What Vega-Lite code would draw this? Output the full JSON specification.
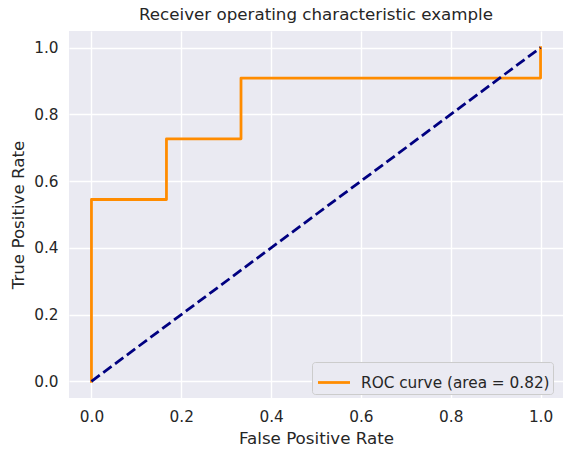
{
  "$schema": "https://vega.github.io/schema/vega-lite/v6.json",
  "autosize": "none",
  "padding": {"left": 69, "top": 31, "right": 11, "bottom": 60},
  "width": 494,
  "height": 367,
  "background": "white",
  "title": {
    "text": "Receiver operating characteristic example",
    "anchor": "middle",
    "font": "DejaVu Sans",
    "fontSize": 16.7,
    "fontWeight": "normal",
    "color": "#262626",
    "offset": 7
  },
  "datasets": {
    "roc": [
      {"fpr": 0.0, "tpr": 0.0, "step": 0, "series": "ROC curve (area = 0.82)"},
      {"fpr": 0.0, "tpr": 0.545, "step": 1, "series": "ROC curve (area = 0.82)"},
      {"fpr": 0.167, "tpr": 0.545, "step": 2, "series": "ROC curve (area = 0.82)"},
      {"fpr": 0.167, "tpr": 0.727, "step": 3, "series": "ROC curve (area = 0.82)"},
      {"fpr": 0.333, "tpr": 0.727, "step": 4, "series": "ROC curve (area = 0.82)"},
      {"fpr": 0.333, "tpr": 0.909, "step": 5, "series": "ROC curve (area = 0.82)"},
      {"fpr": 1.0, "tpr": 0.909, "step": 6, "series": "ROC curve (area = 0.82)"},
      {"fpr": 1.0, "tpr": 1.0, "step": 7, "series": "ROC curve (area = 0.82)"}
    ],
    "chance": [
      {"fpr": 0.0, "tpr": 0.0, "step": 0},
      {"fpr": 1.0, "tpr": 1.0, "step": 1}
    ]
  },
  "layer": [
    {
      "data": {"name": "roc"},
      "mark": {"type": "line", "strokeWidth": 2.78, "strokeCap": "square", "strokeJoin": "round"},
      "encoding": {
        "x": {
          "field": "fpr", "type": "quantitative", "title": "False Positive Rate",
          "scale": {"domain": [-0.05, 1.05], "nice": false, "zero": false},
          "axis": {"values": [0, 0.2, 0.4, 0.6, 0.8, 1.0], "format": ".1f"}
        },
        "y": {
          "field": "tpr", "type": "quantitative", "title": "True Positive Rate",
          "scale": {"domain": [-0.05, 1.05], "nice": false, "zero": false},
          "axis": {"values": [0, 0.2, 0.4, 0.6, 0.8, 1.0], "format": ".1f"}
        },
        "order": {"field": "step"},
        "color": {
          "field": "series", "type": "nominal", "title": null,
          "scale": {"domain": ["ROC curve (area = 0.82)"], "range": ["#FF8C00"]},
          "legend": {
            "orient": "none",
            "legendX": 243,
            "legendY": 331,
            "symbolType": "stroke",
            "symbolSize": 196,
            "symbolStrokeWidth": 2.78,
            "padding": 3,
            "fillColor": "#EAEAF2",
            "strokeColor": "#CCCCCC",
            "cornerRadius": 3,
            "labelFont": "DejaVu Sans",
            "labelFontSize": 15.3,
            "labelColor": "#262626",
            "labelOffset": 11,
            "labelLimit": 400,
            "encode": {
              "symbols": {"update": {"size": {"value": 1024}, "x": {"value": 19}}}
            }
          }
        }
      }
    },
    {
      "data": {"name": "chance"},
      "mark": {"type": "line", "color": "#000080", "strokeWidth": 2.78, "strokeDash": [10.3, 4.4]},
      "encoding": {
        "x": {"field": "fpr", "type": "quantitative"},
        "y": {"field": "tpr", "type": "quantitative"},
        "order": {"field": "step"}
      }
    }
  ],
  "config": {
    "view": {"fill": "#EAEAF2", "stroke": null},
    "axis": {
      "domain": false,
      "ticks": false,
      "grid": true,
      "gridColor": "white",
      "gridWidth": 1.39,
      "labelFont": "DejaVu Sans",
      "labelFontSize": 15.3,
      "labelColor": "#262626",
      "labelPadding": 11,
      "titleFont": "DejaVu Sans",
      "titleFontSize": 16.7,
      "titleFontWeight": "normal",
      "titleColor": "#262626",
      "titlePadding": 6
    }
  }
}
